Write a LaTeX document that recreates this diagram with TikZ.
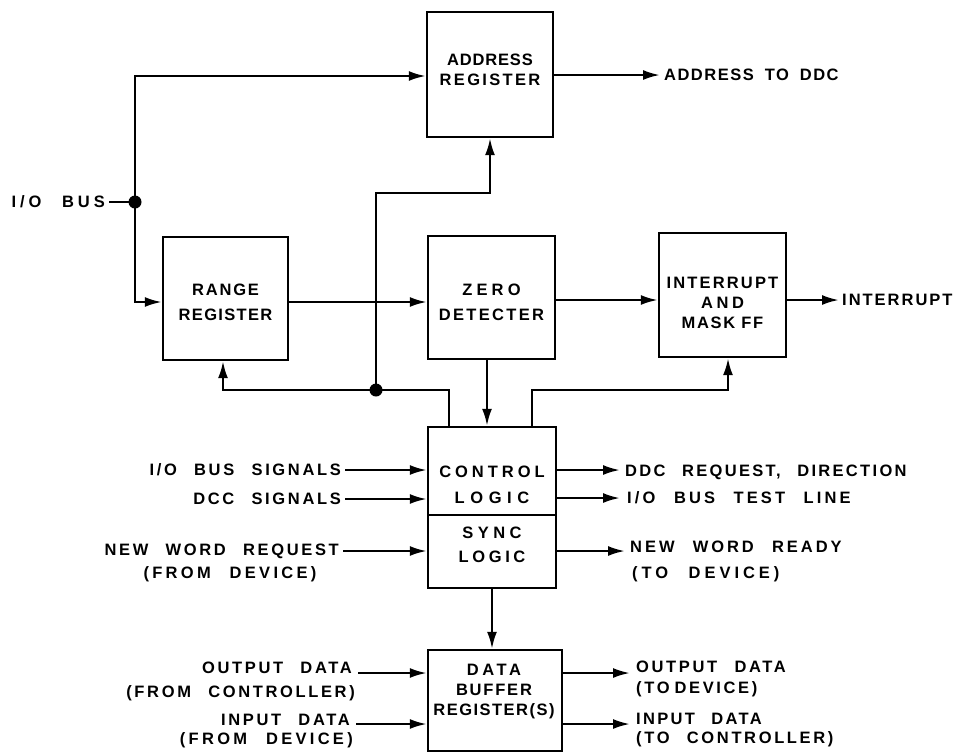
\documentclass[tikz,border=0pt]{standalone}
\usepackage{fontspec}
\setmainfont{Liberation Sans}
\newfontfamily\outf{Liberation Sans}[LetterSpace=16,WordSpace=2.4]
\newfontfamily\boxf{Liberation Sans}[LetterSpace=12]
\newcommand\LS[2]{{\addfontfeature{LetterSpace=#1}#2}}
\usetikzlibrary{arrows.meta}
\begin{document}
\begin{tikzpicture}[x=1pt,y=-1pt,
  box/.style={draw,line width=2.4pt,inner sep=0pt},
  txt/.style={font=\boxf\fontsize{16.5}{20}\selectfont\bfseries,inner sep=0pt,align=center},
  lbl/.style={font=\outf\fontsize{16.5}{20}\selectfont\bfseries,inner sep=0pt,text height=11.8pt,text depth=0pt},
  wire/.style={line width=2.4pt},
  arr/.style={wire,-{Latex[length=17pt,width=10pt]}},
  dot/.style={circle,fill,inner sep=0pt,minimum size=13pt}]
\useasboundingbox (0,0) rectangle (961,753);

% boxes
\node[box,minimum width=126pt,minimum height=125pt] (addr) at (490,74.5) {};
\node[box,minimum width=125pt,minimum height=123pt] (range) at (225.5,298.5) {};
\node[box,minimum width=127pt,minimum height=123pt] (zero) at (491.5,297.5) {};
\node[box,minimum width=127pt,minimum height=124pt] (intr) at (722.5,295) {};
\node[box,minimum width=128pt,minimum height=88pt] (ctrl) at (492,471) {};
\node[box,minimum width=128pt,minimum height=73pt] (sync) at (492,551.5) {};
\node[box,minimum width=134pt,minimum height=101pt] (data) at (495,700.5) {};

% box texts
\node[txt] (addrT) at (490,70) {\LS{5}{ADDRESS}\\\LS{14}{REGISTER}};
\node[txt,font=\boxf\fontsize{16.5}{25}\selectfont\bfseries] (rangeT) at (225.5,302) {\LS{11}{RANGE}\\\LS{8}{REGISTER}};
\node[txt,font=\boxf\fontsize{16.5}{25}\selectfont\bfseries] (zeroT) at (491.5,302) {\LS{25}{ZERO}\\\LS{14}{DETECTER}};
\node[txt] (intrT) at (722.5,303) {\LS{13}{INTERRUPT}\\\LS{22}{AND}\\\LS{10}{MASK FF}};
\node[txt,font=\boxf\fontsize{16.5}{26}\selectfont\bfseries] (ctrlT) at (492,485) {\LS{24}{CONTROL}\\\LS{34}{LOGIC}};
\node[txt,font=\boxf\fontsize{16.5}{24}\selectfont\bfseries] (syncT) at (492,545) {\LS{27}{SYNC}\\\LS{22}{LOGIC}};
\node[txt] (dataT) at (494,692) {\LS{22}{DATA}\\\LS{11}{BUFFER}\\\LS{9}{REGISTER(S)}};

% outside labels
\node[lbl,anchor=east] (iobus) at (105,202) {\LS{24}{I/O BUS}};
\node[lbl,anchor=west] (addrL) at (664,75) {\LS{9}{ADDRESS}\hspace{11pt}\LS{9}{TO}\hspace{11pt}\LS{9}{DDC}};
\node[lbl,anchor=west] (intrL) at (842,300) {\LS{12}{INTERRUPT}};
\node[lbl,anchor=east] (iosig) at (341,470) {I/O BUS SIGNALS};
\node[lbl,anchor=east] (dccsig) at (341,499) {DCC SIGNALS};
\node[lbl,anchor=east] (nwr1) at (339,550) {NEW WORD REQUEST};
\node[lbl] (nwr2) at (230,573) {\LS{20}{(FROM DEVICE)}};
\node[lbl,anchor=west] (ddcreq) at (625,471) {\LS{14}{DDC REQUEST, DIRECTION}};
\node[lbl,anchor=west] (testl) at (627,498) {\LS{19}{I/O BUS TEST LINE}};
\node[lbl,anchor=west] (nwy1) at (630,547) {\LS{18}{NEW WORD READY}};
\node[lbl,anchor=west] (nwy2) at (632,573) {\LS{24}{(TO DEVICE)}};
\node[lbl,anchor=east] (odin1) at (352,668) {OUTPUT DATA};
\node[lbl,anchor=east] (odin2) at (355,692) {(FROM CONTROLLER)};
\node[lbl,anchor=east] (idin1) at (350,720) {INPUT DATA};
\node[lbl,anchor=east] (idin2) at (353,739) {\LS{20}{(FROM DEVICE)}};
\node[lbl,anchor=west] (odout1) at (636,667) {OUTPUT DATA};
\node[lbl,anchor=west] (odout2) at (636,688) {(TO\hspace{5pt}DEVICE)};
\node[lbl,anchor=west] (idout1) at (636,719) {\LS{14}{INPUT DATA}};
\node[lbl,anchor=west] (idout2) at (636,738) {(TO CONTROLLER)};

% junctions
\node[dot] (j1) at (135,202) {};
\node[dot] (j2) at (376,390) {};

% coordinates
\coordinate (iobusE) at (109,202);
\coordinate (a1) at (135,76);
\coordinate (a2) at (135,302);
\coordinate (rz) at (0,302);
\coordinate (zi) at (0,300);
\coordinate (addrO) at (660,75);
\coordinate (intrO) at (839,300);
\coordinate (f1) at (449,390);
\coordinate (f2) at (223,390);
\coordinate (f3) at (376,193);
\coordinate (f4) at (490,193);
\coordinate (g1) at (532,390);
\coordinate (g2) at (728,390);
\coordinate (zx) at (487,0);
\coordinate (sx) at (492,0);
\coordinate (iosigE) at (345,470);
\coordinate (dccsigE) at (345,499);
\coordinate (nwrE) at (343,551);
\coordinate (ddcO) at (620,470);
\coordinate (testO) at (620,498);
\coordinate (nwyO) at (625,551);
\coordinate (odinE) at (358,673);
\coordinate (idinE) at (356,724);
\coordinate (odoutO) at (630,673);
\coordinate (idoutO) at (630,724);

% connectors
\draw[wire] (iobusE) -- (j1.center);
\draw[arr] (j1.center) -- (a1) -- (addr.west|-a1);
\draw[arr] (j1.center) -- (a2) -- (range.west|-a2);
\draw[arr] (range.east|-rz) -- (zero.west|-rz);
\draw[arr] (zero.east|-zi) -- (intr.west|-zi);
\draw[arr] (addr.east|-addrO) -- (addrO);
\draw[arr] (intr.east|-intrO) -- (intrO);
\draw[arr] (ctrl.north-|f1) -- (f1) -- (f2) -- (range.south-|f2);
\draw[arr] (j2.center) -- (f3) -- (f4) -- (addr.south-|f4);
\draw[arr] (zero.south-|zx) -- (ctrl.north-|zx);
\draw[arr] (ctrl.north-|g1) -- (g1) -- (g2) -- (intr.south-|g2);
\draw[arr] (sync.south-|sx) -- (data.north-|sx);
\draw[arr] (iosigE) -- (ctrl.west|-iosigE);
\draw[arr] (dccsigE) -- (ctrl.west|-dccsigE);
\draw[arr] (nwrE) -- (sync.west|-nwrE);
\draw[arr] (ctrl.east|-ddcO) -- (ddcO);
\draw[arr] (ctrl.east|-testO) -- (testO);
\draw[arr] (sync.east|-nwyO) -- (nwyO);
\draw[arr] (odinE) -- (data.west|-odinE);
\draw[arr] (idinE) -- (data.west|-idinE);
\draw[arr] (data.east|-odoutO) -- (odoutO);
\draw[arr] (data.east|-idoutO) -- (idoutO);
\end{tikzpicture}
\end{document}
